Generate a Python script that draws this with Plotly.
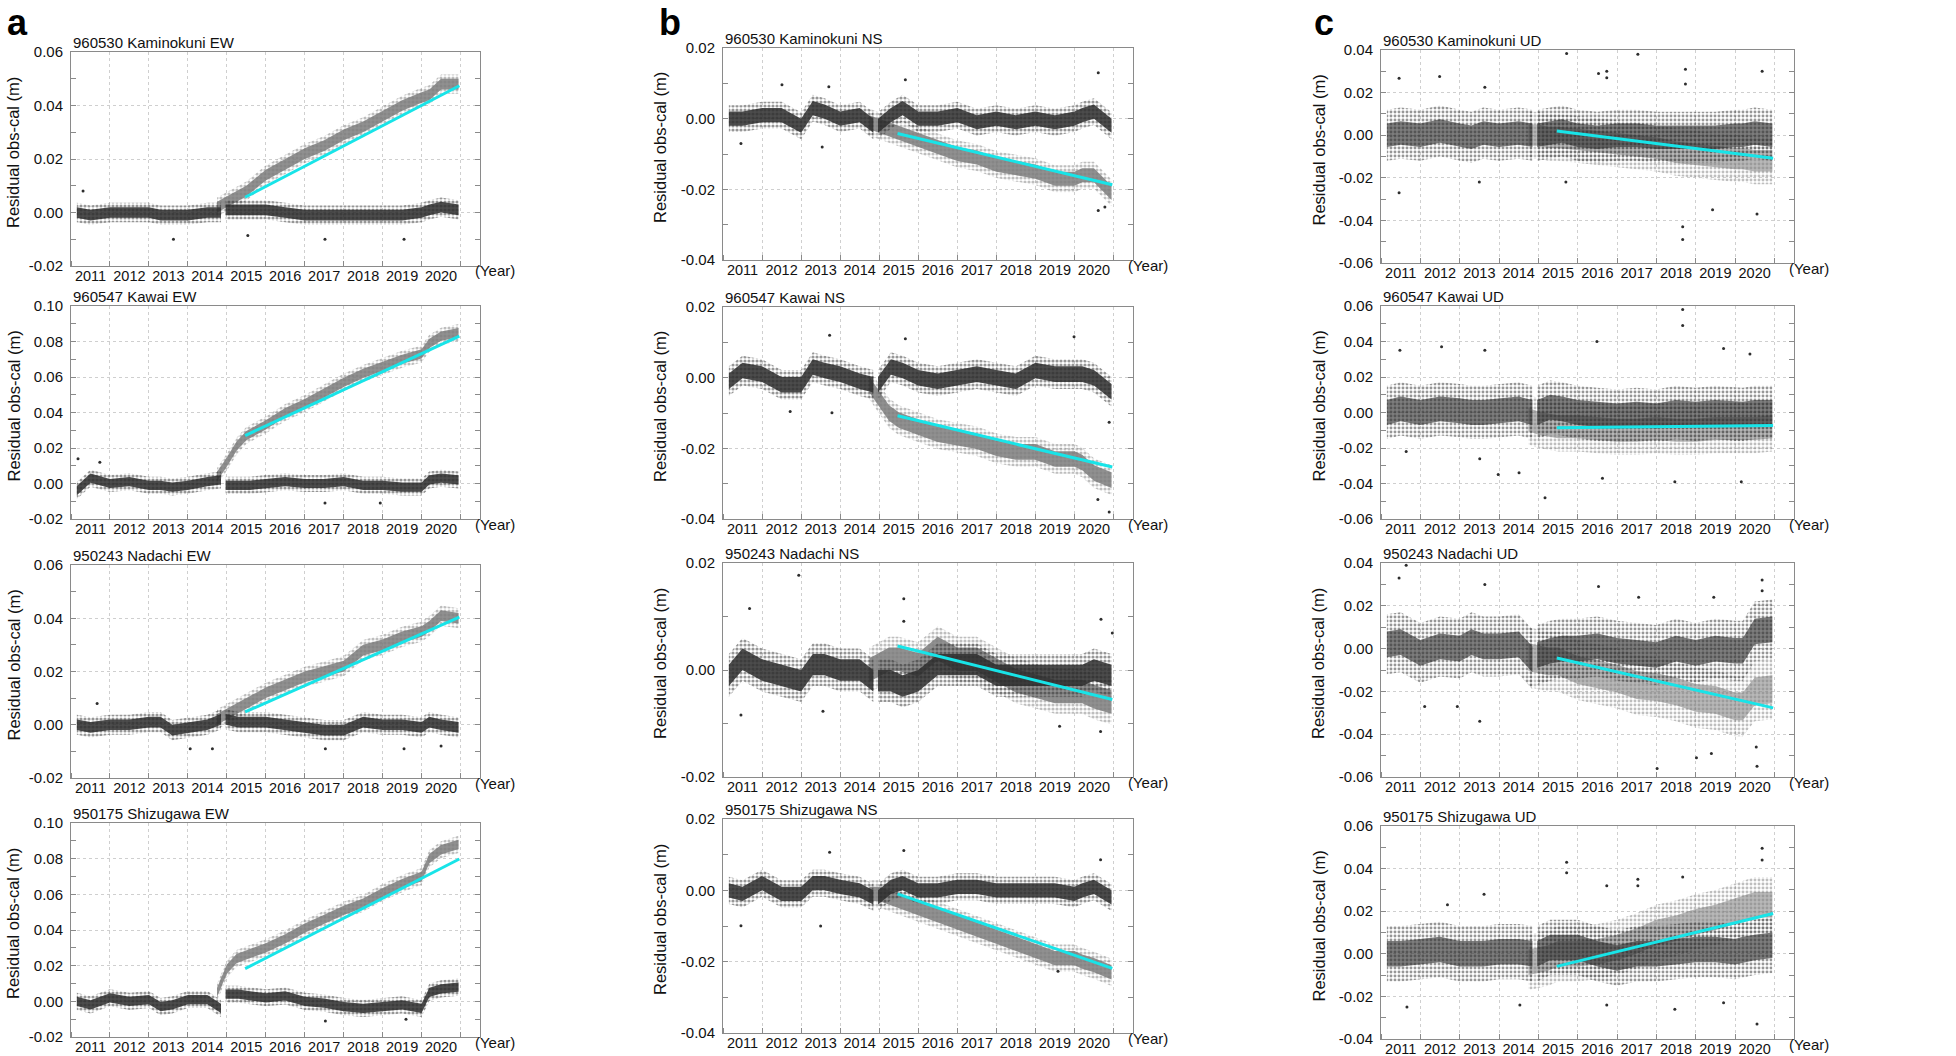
import numpy as np
import plotly.graph_objects as go

W, H = 1956, 1056

# ---------------- data (metres) ----------------
YEARS = list(range(2011, 2021))
STATIONS = ["960530 Kaminokuni", "960547 Kawai", "950243 Nadachi", "950175 Shizugawa"]
COMPONENTS = ["EW", "NS", "UD"]

# sampling times of the black (corrected) cloud; a short data gap sits between index 9 and 10
T_BLACK = [2011.15, 2011.5, 2012.0, 2012.5, 2013.0, 2013.3, 2013.6, 2014.0, 2014.5, 2014.85,
           2014.97, 2015.3, 2015.6, 2016.0, 2016.5, 2017.0, 2017.5, 2018.0, 2018.5, 2019.0,
           2019.5, 2020.0, 2020.2, 2020.5, 2020.95]
GAP = 10
# sampling times of the grey (uncorrected) cloud
T_GRAY = [2014.75, 2015.0, 2015.25, 2015.5, 2016.0, 2016.5, 2017.0, 2017.5, 2018.0, 2018.5,
          2019.0, 2019.5, 2020.0, 2020.2, 2020.5, 2020.95]
# linear trend (cyan) start / end
T_TREND = [2015.47, 2020.97]

# y ranges
YR_EW = [(-0.02, 0.06), (-0.02, 0.10), (-0.02, 0.06), (-0.02, 0.10)]
YR_NS = [(-0.04, 0.02), (-0.04, 0.02), (-0.02, 0.02), (-0.04, 0.02)]
YR_UD = [(-0.06, 0.04), (-0.06, 0.06), (-0.06, 0.04), (-0.04, 0.06)]

# black cloud centre
BLACK_EW_KAMI = [0.000, -0.001, 0.000, 0.000, 0.000, -0.001, -0.001, -0.001, 0.000, 0.000,
                 0.001, 0.001, 0.001, 0.001, 0.000, -0.001, -0.001, -0.001, -0.001, -0.001,
                 -0.001, 0.000, 0.001, 0.002, 0.001]
BLACK_EW_KAWAI = [-0.004, 0.003, 0.000, 0.001, -0.001, -0.001, -0.002, -0.001, 0.001, 0.002,
                  -0.001, -0.001, -0.001, 0.000, 0.001, 0.000, 0.000, 0.001, -0.001, -0.001,
                  -0.002, -0.002, 0.002, 0.003, 0.002]
BLACK_EW_NADA = [0.000, -0.001, 0.000, 0.000, 0.001, 0.001, -0.002, -0.001, 0.000, 0.002,
                 0.002, 0.001, 0.001, 0.001, 0.000, -0.001, -0.002, -0.002, 0.001, 0.000,
                 0.000, -0.001, 0.001, 0.000, -0.001]
BLACK_EW_SHIZ = [0.000, -0.002, 0.002, 0.000, 0.001, -0.003, -0.002, 0.001, 0.001, -0.004,
                 0.004, 0.004, 0.003, 0.002, 0.003, 0.000, -0.001, -0.003, -0.004, -0.003,
                 -0.002, -0.004, 0.005, 0.007, 0.008]
BLACK_NS_KAMI = [0.000, 0.000, 0.001, 0.001, -0.002, 0.003, 0.002, 0.000, 0.001, -0.002,
                 -0.002, 0.001, 0.003, 0.000, 0.000, 0.001, -0.001, 0.000, -0.001, 0.000,
                 -0.001, 0.000, 0.001, 0.002, -0.002]
BLACK_NS_KAWAI = [-0.001, 0.002, 0.001, -0.002, -0.002, 0.003, 0.002, 0.001, -0.001, -0.002,
                  -0.002, 0.003, 0.002, 0.000, -0.001, 0.000, 0.001, 0.000, -0.001, 0.002,
                  0.001, 0.001, 0.001, 0.000, -0.004]
BLACK_NS_NADA = [-0.001, 0.002, 0.000, -0.001, -0.002, 0.001, 0.001, 0.000, 0.000, -0.002,
                 -0.002, -0.002, -0.003, -0.002, 0.001, 0.001, 0.001, -0.001, -0.001, -0.001,
                 -0.001, -0.001, -0.001, 0.000, -0.001]
BLACK_NS_SHIZ = [0.000, -0.001, 0.002, -0.001, -0.001, 0.002, 0.002, 0.001, 0.000, -0.002,
                 -0.002, 0.001, 0.002, 0.000, 0.000, 0.001, 0.001, 0.000, 0.000, 0.000,
                 0.000, -0.001, 0.000, 0.001, -0.002]
BLACK_UD_KAMI = [0.000, 0.001, 0.000, 0.002, 0.000, -0.001, 0.001, 0.000, 0.001, 0.000,
                 0.000, 0.001, 0.002, 0.000, -0.001, 0.000, 0.000, -0.001, -0.001, -0.001,
                 -0.001, 0.000, 0.000, 0.001, 0.000]
BLACK_UD_KAWAI = [0.000, 0.002, 0.000, 0.002, 0.001, 0.000, 0.000, 0.001, 0.002, 0.000,
                  0.000, 0.003, 0.002, 0.000, -0.001, -0.002, -0.001, -0.002, 0.000, -0.001,
                  0.000, -0.001, -0.001, 0.000, 0.000]
BLACK_UD_NADA = [0.002, 0.003, -0.002, 0.001, 0.000, 0.003, 0.001, 0.001, 0.002, -0.005,
                 -0.003, -0.001, 0.000, 0.000, 0.001, -0.001, -0.002, -0.003, 0.000, -0.002,
                 0.000, -0.001, -0.001, 0.008, 0.009]
BLACK_UD_SHIZ = [0.000, 0.000, 0.001, 0.002, 0.000, 0.000, 0.000, 0.001, 0.001, 0.000,
                 0.000, 0.003, 0.003, 0.003, 0.000, -0.002, 0.000, 0.000, 0.001, 0.002,
                 0.002, 0.001, 0.002, 0.003, 0.004]

# grey cloud centre
GRAY_EW_KAMI = [0.002, 0.004, 0.006, 0.008, 0.014, 0.018, 0.022, 0.025, 0.029, 0.032, 0.036, 0.040, 0.043, 0.044, 0.048, 0.048]
GRAY_EW_KAWAI = [0.004, 0.012, 0.021, 0.027, 0.033, 0.040, 0.045, 0.051, 0.057, 0.062, 0.066, 0.070, 0.073, 0.079, 0.083, 0.085]
GRAY_EW_NADA = [0.002, 0.004, 0.006, 0.008, 0.012, 0.015, 0.018, 0.020, 0.022, 0.028, 0.030, 0.033, 0.035, 0.037, 0.041, 0.040]
GRAY_EW_SHIZ = [0.005, 0.018, 0.024, 0.026, 0.030, 0.035, 0.041, 0.046, 0.051, 0.055, 0.061, 0.066, 0.070, 0.080, 0.085, 0.088]
GRAY_NS_KAMI = [-0.001, -0.002, -0.003, -0.004, -0.006, -0.008, -0.010, -0.011, -0.013, -0.014, -0.015, -0.017, -0.017, -0.016, -0.016, -0.021]
GRAY_NS_KAWAI = [-0.002, -0.006, -0.010, -0.012, -0.014, -0.016, -0.017, -0.018, -0.020, -0.021, -0.021, -0.023, -0.023, -0.024, -0.027, -0.029]
GRAY_NS_NADA = [0.000, 0.001, 0.002, 0.002, 0.001, 0.004, 0.002, 0.002, 0.000, -0.002, -0.003, -0.004, -0.004, -0.004, -0.005, -0.006]
GRAY_NS_SHIZ = [-0.001, -0.001, -0.002, -0.003, -0.005, -0.007, -0.009, -0.011, -0.013, -0.015, -0.017, -0.019, -0.019, -0.020, -0.021, -0.023]
GRAY_UD_KAMI = [0.000, 0.000, -0.001, -0.001, -0.002, -0.003, -0.004, -0.005, -0.006, -0.008, -0.009, -0.010, -0.011, -0.011, -0.012, -0.012]
GRAY_UD_KAWAI = [-0.004, -0.006, -0.007, -0.008, -0.008, -0.009, -0.010, -0.010, -0.009, -0.010, -0.010, -0.009, -0.009, -0.009, -0.009, -0.008]
GRAY_UD_NADA = [-0.004, -0.005, -0.006, -0.006, -0.010, -0.012, -0.014, -0.017, -0.018, -0.020, -0.023, -0.024, -0.027, -0.027, -0.020, -0.019]
GRAY_UD_SHIZ = [-0.004, -0.003, -0.002, 0.000, 0.000, 0.001, 0.003, 0.006, 0.010, 0.012, 0.015, 0.017, 0.020, 0.021, 0.023, 0.023]

# trend line end values
TREND_EW = [[0.0057, 0.0474], [0.0270, 0.0830], [0.0048, 0.0404], [0.0183, 0.0798]]
TREND_NS = [[-0.0042, -0.0187], [-0.0108, -0.0253], [0.0045, -0.0055], [-0.0010, -0.0219]]
TREND_UD = [[0.0020, -0.0108], [-0.0086, -0.0073], [-0.0044, -0.0277], [-0.0059, 0.0189]]

# half-widths of the dense core / sparse fringe of each cloud
BLACK_CORE_EW = [0.0020, 0.0026, 0.0020, 0.0026]
BLACK_FRINGE_EW = [0.0036, 0.0048, 0.0038, 0.0048]
BLACK_CORE_NS = [0.0020, 0.0022, 0.0020, 0.0020]
BLACK_FRINGE_NS = [0.0038, 0.0042, 0.0040, 0.0038]
BLACK_CORE_UD = [0.0055, 0.0070, 0.0060, 0.0060]
BLACK_FRINGE_UD = [0.0120, 0.0150, 0.0140, 0.0130]
GRAY_CORE_EW = [0.0020, 0.0026, 0.0020, 0.0026]
GRAY_FRINGE_EW = [0.0036, 0.0048, 0.0038, 0.0048]
GRAY_CORE_NS = [0.0020, 0.0022, 0.0022, 0.0020]
GRAY_FRINGE_NS = [0.0038, 0.0042, 0.0042, 0.0038]
GRAY_CORE_UD = [0.0050, 0.0065, 0.0065, 0.0060]
GRAY_FRINGE_UD = [0.0110, 0.0140, 0.0140, 0.0130]

# isolated outlying points (year, value)
OUT_EW_KAMI_T = [2011.31, 2013.63, 2015.54, 2017.52, 2019.55]
OUT_EW_KAMI_V = [0.008, -0.010, -0.0086, -0.010, -0.010]
OUT_EW_KAWAI_T = [2011.18, 2011.74, 2017.52, 2018.94]
OUT_EW_KAWAI_V = [0.014, 0.012, -0.011, -0.011]
OUT_EW_NADA_T = [2011.67, 2014.06, 2014.63, 2017.53, 2019.55, 2020.50]
OUT_EW_NADA_V = [0.008, -0.009, -0.009, -0.009, -0.009, -0.008]
OUT_EW_SHIZ_T = [2017.53, 2019.60]
OUT_EW_SHIZ_V = [-0.011, -0.010]
OUT_NS_KAMI_T = [2011.46, 2012.51, 2013.54, 2013.71, 2015.67, 2020.61, 2020.61, 2020.78]
OUT_NS_KAMI_V = [-0.007, 0.0096, -0.008, 0.009, 0.011, 0.013, -0.026, -0.025]
OUT_NS_KAWAI_T = [2012.72, 2013.73, 2013.79, 2015.67, 2019.99, 2020.60, 2020.89, 2020.89]
OUT_NS_KAWAI_V = [-0.0096, 0.012, -0.0099, 0.011, 0.0116, -0.0345, -0.0126, -0.038]
OUT_NS_NADA_T = [2011.46, 2011.68, 2012.94, 2013.56, 2015.63, 2015.63, 2019.62, 2020.67, 2020.68, 2020.97]
OUT_NS_NADA_V = [-0.0084, 0.0115, 0.0177, -0.0077, 0.0133, 0.0091, -0.0105, -0.0115, 0.0095, 0.0069]
OUT_NS_SHIZ_T = [2011.46, 2013.50, 2013.73, 2015.63, 2019.58, 2020.67]
OUT_NS_SHIZ_V = [-0.0099, -0.0100, 0.0107, 0.0112, -0.0227, 0.0086]
OUT_UD_KAMI_T = [2011.46, 2011.46, 2012.49, 2013.64, 2015.72, 2016.53, 2016.74, 2016.74, 2017.53, 2018.74,
                 2018.74, 2018.67, 2018.67, 2019.43, 2020.56, 2020.69, 2015.70, 2013.50]
OUT_UD_KAMI_V = [-0.027, 0.0267, 0.0275, 0.0225, 0.0384, 0.029, 0.030, 0.027, 0.038, 0.031,
                 0.024, -0.043, -0.049, -0.035, -0.037, 0.030, -0.022, -0.022]
OUT_UD_KAWAI_T = [2011.48, 2011.64, 2012.54, 2013.51, 2013.64, 2013.98, 2014.51, 2015.17, 2016.49, 2016.63,
                  2018.47, 2018.67, 2018.67, 2019.71, 2020.16, 2020.38]
OUT_UD_KAWAI_V = [0.035, -0.022, 0.037, -0.026, 0.035, -0.035, -0.034, -0.048, 0.040, -0.037,
                  -0.039, 0.058, 0.049, 0.036, -0.039, 0.033]
OUT_UD_NADA_T = [2011.46, 2011.64, 2012.11, 2012.94, 2013.51, 2013.64, 2016.53, 2017.55, 2018.02, 2019.02,
                 2019.40, 2019.46, 2020.54, 2020.56, 2020.69, 2020.69]
OUT_UD_NADA_V = [0.033, 0.039, -0.027, -0.027, -0.034, 0.030, 0.029, 0.024, -0.056, -0.051,
                 -0.049, 0.024, -0.046, -0.055, 0.032, 0.027]
OUT_UD_SHIZ_T = [2011.66, 2012.69, 2013.62, 2014.53, 2015.72, 2015.72, 2016.74, 2016.74, 2017.53, 2017.53,
                 2018.47, 2018.67, 2019.71, 2020.56, 2020.69, 2020.69]
OUT_UD_SHIZ_V = [-0.025, 0.023, 0.028, -0.024, 0.043, 0.038, 0.032, -0.024, 0.035, 0.032,
                 -0.026, 0.036, -0.023, -0.033, 0.0495, 0.044]

# ---------------- assemble per component ----------------
BLACK = {"EW": [BLACK_EW_KAMI, BLACK_EW_KAWAI, BLACK_EW_NADA, BLACK_EW_SHIZ],
         "NS": [BLACK_NS_KAMI, BLACK_NS_KAWAI, BLACK_NS_NADA, BLACK_NS_SHIZ],
         "UD": [BLACK_UD_KAMI, BLACK_UD_KAWAI, BLACK_UD_NADA, BLACK_UD_SHIZ]}
GRAY = {"EW": [GRAY_EW_KAMI, GRAY_EW_KAWAI, GRAY_EW_NADA, GRAY_EW_SHIZ],
        "NS": [GRAY_NS_KAMI, GRAY_NS_KAWAI, GRAY_NS_NADA, GRAY_NS_SHIZ],
        "UD": [GRAY_UD_KAMI, GRAY_UD_KAWAI, GRAY_UD_NADA, GRAY_UD_SHIZ]}
TREND = {"EW": TREND_EW, "NS": TREND_NS, "UD": TREND_UD}
YR = {"EW": YR_EW, "NS": YR_NS, "UD": YR_UD}
BCORE = {"EW": BLACK_CORE_EW, "NS": BLACK_CORE_NS, "UD": BLACK_CORE_UD}
BFR = {"EW": BLACK_FRINGE_EW, "NS": BLACK_FRINGE_NS, "UD": BLACK_FRINGE_UD}
GCORE = {"EW": GRAY_CORE_EW, "NS": GRAY_CORE_NS, "UD": GRAY_CORE_UD}
GFR = {"EW": GRAY_FRINGE_EW, "NS": GRAY_FRINGE_NS, "UD": GRAY_FRINGE_UD}
OUT = {"EW": [(OUT_EW_KAMI_T, OUT_EW_KAMI_V), (OUT_EW_KAWAI_T, OUT_EW_KAWAI_V),
              (OUT_EW_NADA_T, OUT_EW_NADA_V), (OUT_EW_SHIZ_T, OUT_EW_SHIZ_V)],
       "NS": [(OUT_NS_KAMI_T, OUT_NS_KAMI_V), (OUT_NS_KAWAI_T, OUT_NS_KAWAI_V),
              (OUT_NS_NADA_T, OUT_NS_NADA_V), (OUT_NS_SHIZ_T, OUT_NS_SHIZ_V)],
       "UD": [(OUT_UD_KAMI_T, OUT_UD_KAMI_V), (OUT_UD_KAWAI_T, OUT_UD_KAWAI_V),
              (OUT_UD_NADA_T, OUT_UD_NADA_V), (OUT_UD_SHIZ_T, OUT_UD_SHIZ_V)]}

# ---------------- geometry / style ----------------
COL_X = [(71, 480), (723, 1133), (1381, 1794)]
ROW_Y = [[(52, 266), (306, 519), (565, 778), (823, 1037)],
         [(48, 260), (307, 519), (563, 777), (819, 1033)],
         [(50, 263), (306, 519), (563, 777), (826, 1039)]]
LETTER_X = [5, 657, 1312]

SANS = "Liberation Sans, Arial, Helvetica, sans-serif"
FRAME = "#8a8a8a"
GRID = "#cfcfcf"
DARK = "45,45,45"
MID = "125,125,125"
STYLE = {
    "EW": dict(bc=f"rgba({DARK},0.85)", bf=0.5, gc=f"rgba({MID},0.85)", gf=0.5),
    "NS": dict(bc=f"rgba({DARK},0.85)", bf=0.5, gc=f"rgba({MID},0.85)", gf=0.5),
    "UD": dict(bc=f"rgba({DARK},0.62)", bf=0.42, gc=f"rgba({MID},0.55)", gf=0.42),
}
CYAN = "#18e4e8"


def band(t, c, hw):
    t = list(t)
    c = np.asarray(c, dtype=float)
    return t + t[::-1], list(c + hw) + list((c - hw)[::-1])


fig = go.Figure()
annotations = []
layout = {}

for ci, comp in enumerate(COMPONENTS):
    st = STYLE[comp]
    for ri in range(4):
        k = ci * 4 + ri + 1
        xs, ys = f"x{k}", f"y{k}"
        x0, x1 = COL_X[ci]
        y0, y1 = ROW_Y[ci][ri]
        ylo, yhi = YR[comp][ri]

        def add_solid(t, c, hw, col):
            bx, by = band(t, c, hw)
            fig.add_trace(go.Scatter(x=bx, y=by, fill="toself", fillcolor=col, mode="lines",
                                     line=dict(width=0), hoverinfo="skip", showlegend=False,
                                     xaxis=xs, yaxis=ys))

        def add_dotted(t, c, hw, rgb, solidity):
            bx, by = band(t, c, hw)
            fig.add_trace(go.Scatter(x=bx, y=by, fill="toself", mode="lines",
                                     fillcolor="rgba(0,0,0,0)",
                                     fillpattern=dict(shape=".", fgcolor=f"rgb({rgb})",
                                                      bgcolor="rgba(255,255,255,0)",
                                                      size=4, solidity=solidity),
                                     line=dict(width=0), hoverinfo="skip", showlegend=False,
                                     xaxis=xs, yaxis=ys))

        # grey (uncorrected) cloud
        add_dotted(T_GRAY, GRAY[comp][ri], GFR[comp][ri], MID, st["gf"])
        add_solid(T_GRAY, GRAY[comp][ri], GCORE[comp][ri], st["gc"])
        # black (corrected) cloud, two segments around the data gap
        b = BLACK[comp][ri]
        for seg in (slice(0, GAP), slice(GAP, None)):
            add_dotted(T_BLACK[seg], b[seg], BFR[comp][ri], DARK, st["bf"])
        for seg in (slice(0, GAP), slice(GAP, None)):
            add_solid(T_BLACK[seg], b[seg], BCORE[comp][ri], st["bc"])
        # outliers
        ot, ov = OUT[comp][ri]
        fig.add_trace(go.Scatter(x=ot, y=ov, mode="markers", marker=dict(size=3, color="#2d2d2d"),
                                 hoverinfo="skip", showlegend=False, xaxis=xs, yaxis=ys))
        # trend
        fig.add_trace(go.Scatter(x=T_TREND, y=TREND[comp][ri], mode="lines",
                                 line=dict(color=CYAN, width=3), hoverinfo="skip",
                                 showlegend=False, xaxis=xs, yaxis=ys))

        yt = [round(v, 2) for v in np.arange(ylo, yhi + 1e-9, 0.02)]
        layout[f"xaxis{k}"] = dict(
            domain=[x0 / W, x1 / W], anchor=ys, range=[2011, 2021.5], automargin=False,
            tickmode="array", tickvals=[y + 0.5 for y in YEARS], ticktext=[str(y) for y in YEARS],
            tickangle=0, ticks="", showgrid=False, zeroline=False, showline=True, linecolor=FRAME,
            linewidth=1, mirror=True, tickfont=dict(family=SANS, size=14.5, color="#111"),
            ticklabelstandoff=-3,
            minor=dict(tickmode="linear", tick0=2011, dtick=1, showgrid=True, gridcolor=GRID,
                       griddash="dot", gridwidth=1, ticks="inside", ticklen=5, tickcolor=FRAME),
            fixedrange=True)
        layout[f"yaxis{k}"] = dict(
            domain=[1 - y1 / H, 1 - y0 / H], anchor=xs, range=[ylo, yhi], automargin=False,
            tickmode="array", tickvals=yt, ticktext=[f"{v:.2f}" for v in yt],
            ticks="inside", ticklen=5, tickcolor=FRAME, showgrid=True, gridcolor=GRID,
            griddash="dot", zeroline=False, showline=True, linecolor=FRAME, linewidth=1,
            mirror="ticks", tickfont=dict(family=SANS, size=15, color="#111"),
            ticklabelstandoff=4,
            minor=dict(tickmode="linear", tick0=ylo + 0.01, dtick=0.02, ticks="inside",
                       ticklen=5, tickcolor=FRAME, showgrid=False),
            fixedrange=True)

        # panel title
        annotations.append(dict(text=f"{STATIONS[ri]} {comp}", xref="paper", yref="paper",
                                x=x0 / W, y=1 - (y0 + 1) / H, xanchor="left", yanchor="bottom",
                                showarrow=False, font=dict(family=SANS, size=15, color="#111")))
        # (Year)
        annotations.append(dict(text="(Year)", xref="paper", yref="paper",
                                x=(x1 - 7) / W, y=1 - (y1 + 5) / H, xanchor="left", yanchor="middle",
                                showarrow=False, font=dict(family=SANS, size=15, color="#111")))
        # y title
        ytx = max(x0 - 63, 13)
        annotations.append(dict(text="Residual obs-cal (m)", xref="paper", yref="paper",
                                x=ytx / W, y=1 - ((y0 + y1) / 2 - 6) / H, xanchor="center",
                                yanchor="middle", textangle=-90, showarrow=False,
                                font=dict(family=SANS, size=16.5, color="#111")))

for ci, letter in enumerate(["a", "b", "c"]):
    annotations.append(dict(text=f"<b>{letter}</b>", xref="paper", yref="paper",
                            x=LETTER_X[ci] / W, y=1.0, xanchor="left", yanchor="top",
                            showarrow=False, font=dict(family=SANS, size=36, color="#000")))

fig.update_layout(width=W, height=H, margin=dict(l=0, r=0, t=0, b=0, autoexpand=False),
                  paper_bgcolor="white", plot_bgcolor="white", showlegend=False,
                  annotations=annotations, **layout)

fig.write_html("out.html", config={"displayModeBar": False},
               post_script="document.body.style.margin='0';document.body.style.overflow='hidden';")
